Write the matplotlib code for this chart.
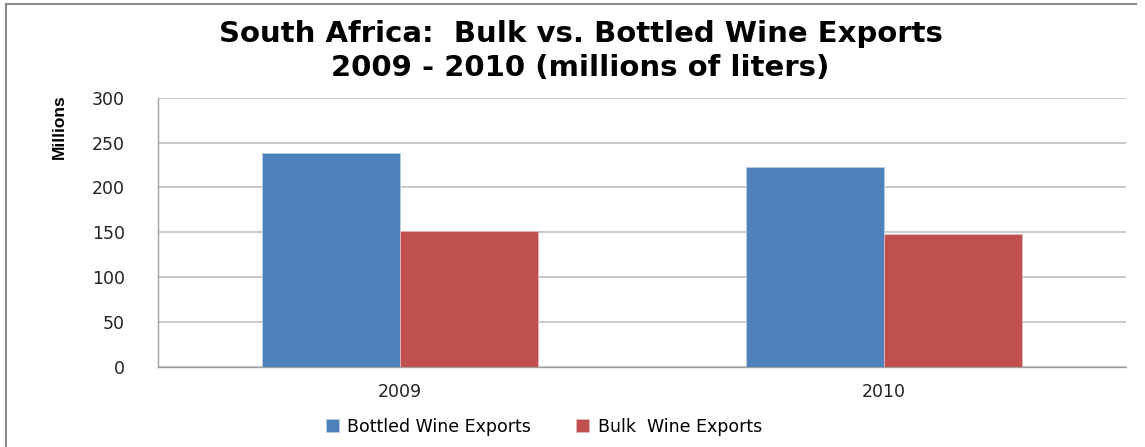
import numpy as np
import matplotlib.pyplot as plt
from matplotlib.lines import Line2D

# export volumes, millions of liters
years = ["2009", "2010"]
bottled = [239, 223]
bulk = [151, 148]
series_names = ["Bottled Wine Exports", "Bulk  Wine Exports"]
yticks = [0, 50, 100, 150, 200, 250, 300]

BLUE = "#4F81BD"
RED = "#C0504D"

fig = plt.figure(figsize=(11.45, 4.47), dpi=100)
ax = fig.add_axes([0.138, 0.180, 0.845, 0.601])

x = np.arange(len(years))
width = 0.285
b1 = ax.bar(x - width / 2, bottled, width, color=BLUE, edgecolor="#B9CDE5", linewidth=0.6,
            label=series_names[0], zorder=3)
b2 = ax.bar(x + width / 2, bulk, width, color=RED, edgecolor="#E6B9B8", linewidth=0.6,
            label=series_names[1], zorder=3)

ax.set_xlim(-0.5, 1.5)
ax.set_ylim(0, 300)
ax.set_yticks(yticks)
ax.set_xticks(x)
ax.set_xticklabels(years)
ax.yaxis.grid(True, color="#bcbcbc", linewidth=1.1, zorder=0)
ax.tick_params(axis="both", length=0, labelsize=12.5, colors="#222222")
ax.tick_params(axis="y", pad=24)
ax.tick_params(axis="x", pad=12)
for side in ["top", "right"]:
    ax.spines[side].set_visible(False)
for side in ["left", "bottom"]:
    ax.spines[side].set_color("#a0a0a0")
    ax.spines[side].set_linewidth(1.0)

fig.text(0.507, 0.885, "South Africa:  Bulk vs. Bottled Wine Exports\n2009 - 2010 (millions of liters)",
         ha="center", va="center", fontsize=21, fontweight="bold", linespacing=1.27)

fig.text(0.052, 0.716, "Millions", rotation=90, ha="center", va="center", fontsize=12.5,
         fontweight="bold", family=["Liberation Sans Narrow", "Liberation Sans", "DejaVu Sans"])

fig.legend(handles=[b1, b2], loc="center", bbox_to_anchor=(0.475, 0.045), ncol=2, frameon=False,
           fontsize=12.5, handlelength=0.75, handleheight=0.75, columnspacing=2.6, handletextpad=0.5)

# outer chart frame
fig.add_artist(Line2D([0.005, 0.992], [0.991, 0.991], color="#8c8c8c", linewidth=1.5))
fig.add_artist(Line2D([0.005, 0.005], [0.0, 0.991], color="#8c8c8c", linewidth=1.5))

fig.savefig("out.png", dpi=100)
